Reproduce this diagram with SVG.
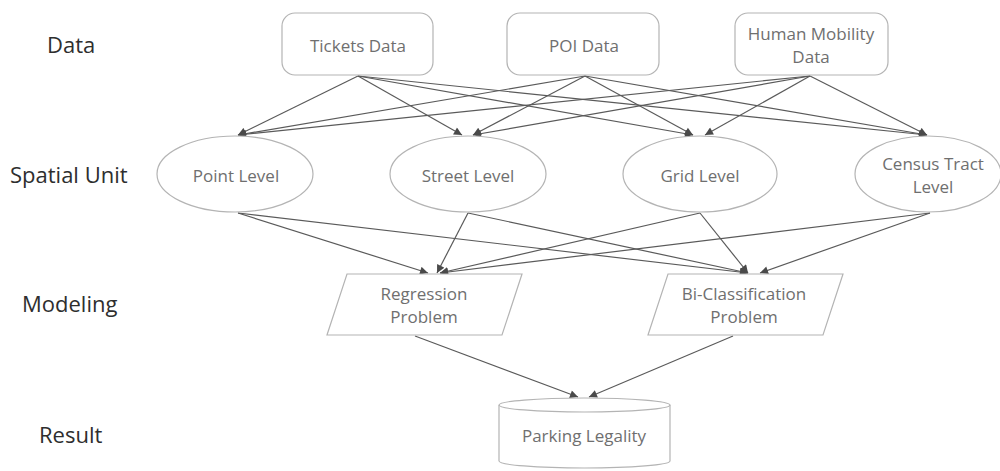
<svg xmlns="http://www.w3.org/2000/svg" width="1000" height="471" viewBox="0 0 1000 471">
<style>
.lbl{font-family:"Open Sans","Noto Sans",sans-serif;font-size:22px;fill:#2e2e2e}
.t{font-family:"Open Sans","Noto Sans",sans-serif;font-size:17px;fill:#6f6f6f;text-anchor:middle}
.shape{fill:#fff;stroke:#b4b4b4;stroke-width:1.2}
.con line{stroke:#5a5a5a;stroke-width:1.2;marker-end:url(#ah)}
</style>
<defs>
<marker id="ah" viewBox="0 0 10 10" refX="10" refY="5" markerWidth="9" markerHeight="8" markerUnits="userSpaceOnUse" orient="auto">
<path d="M0,0 L10,5 L0,10 Z" fill="#4a4a4a"/>
</marker>
</defs>
<rect width="1000" height="471" fill="#fff"/>
<g id="row-labels">
<text class="lbl" x="47" y="53">Data</text>
<text class="lbl" x="10" y="183">Spatial Unit</text>
<text class="lbl" x="22" y="312">Modeling</text>
<text class="lbl" x="39" y="443">Result</text>
</g>
<g id="connectors" class="con">
<line x1="358" y1="76" x2="238" y2="135"/>
<line x1="358" y1="76" x2="462" y2="135"/>
<line x1="358" y1="76" x2="693" y2="135"/>
<line x1="358" y1="76" x2="927" y2="135"/>
<line x1="585" y1="76" x2="238" y2="135"/>
<line x1="585" y1="76" x2="473" y2="135"/>
<line x1="585" y1="76" x2="693" y2="135"/>
<line x1="585" y1="76" x2="927" y2="135"/>
<line x1="810" y1="76" x2="238" y2="135"/>
<line x1="810" y1="76" x2="473" y2="135"/>
<line x1="810" y1="76" x2="705" y2="135"/>
<line x1="810" y1="76" x2="927" y2="135"/>
<line x1="238" y1="213" x2="428" y2="273"/>
<line x1="238" y1="213" x2="748" y2="273"/>
<line x1="468" y1="213" x2="437" y2="273"/>
<line x1="468" y1="213" x2="748" y2="273"/>
<line x1="700" y1="213" x2="440" y2="273"/>
<line x1="700" y1="213" x2="748" y2="273"/>
<line x1="930" y1="213" x2="440" y2="273"/>
<line x1="930" y1="213" x2="760" y2="273"/>
<line x1="415" y1="336" x2="578" y2="397"/>
<line x1="733" y1="336" x2="589" y2="397"/>
</g>
<g id="tickets">
<rect class="shape" x="282" y="13" width="151" height="62" rx="13"/>
<text class="t" x="358" y="52">Tickets Data</text>
</g>
<g id="poi">
<rect class="shape" x="507" y="13" width="152" height="62" rx="13"/>
<text class="t" x="584" y="52">POI Data</text>
</g>
<g id="mobility">
<rect class="shape" x="735" y="13" width="153" height="62" rx="13"/>
<text class="t" x="811" y="40">Human Mobility</text>
<text class="t" x="811" y="63">Data</text>
</g>
<g id="point">
<ellipse class="shape" cx="235" cy="174" rx="78" ry="38"/>
<text class="t" x="236" y="182">Point Level</text>
</g>
<g id="street">
<ellipse class="shape" cx="468" cy="174" rx="78" ry="38"/>
<text class="t" x="468" y="182">Street Level</text>
</g>
<g id="grid">
<ellipse class="shape" cx="700" cy="174" rx="77" ry="38"/>
<text class="t" x="700" y="182">Grid Level</text>
</g>
<g id="census">
<ellipse class="shape" cx="928" cy="174" rx="73" ry="38"/>
<text class="t" x="933" y="170">Census Tract</text>
<text class="t" x="933" y="193">Level</text>
</g>
<g id="regression">
<polygon class="shape" points="347,274 522,274 502,335 327,335"/>
<text class="t" x="424" y="300">Regression</text>
<text class="t" x="424" y="323">Problem</text>
</g>
<g id="biclass">
<polygon class="shape" points="668,274 843,274 823,335 648,335"/>
<text class="t" x="744" y="300">Bi-Classification</text>
<text class="t" x="744" y="323">Problem</text>
</g>
<g id="parking">
<path class="shape" d="M499,405 A85.5,7 0 0,1 670,405 V461 A85.5,7 0 0,1 499,461 Z"/>
<path d="M499,405 A85.5,7 0 0,0 670,405" fill="none" stroke="#b4b4b4" stroke-width="1.2"/>
<text class="t" x="584" y="442">Parking Legality</text>
</g>
</svg>
